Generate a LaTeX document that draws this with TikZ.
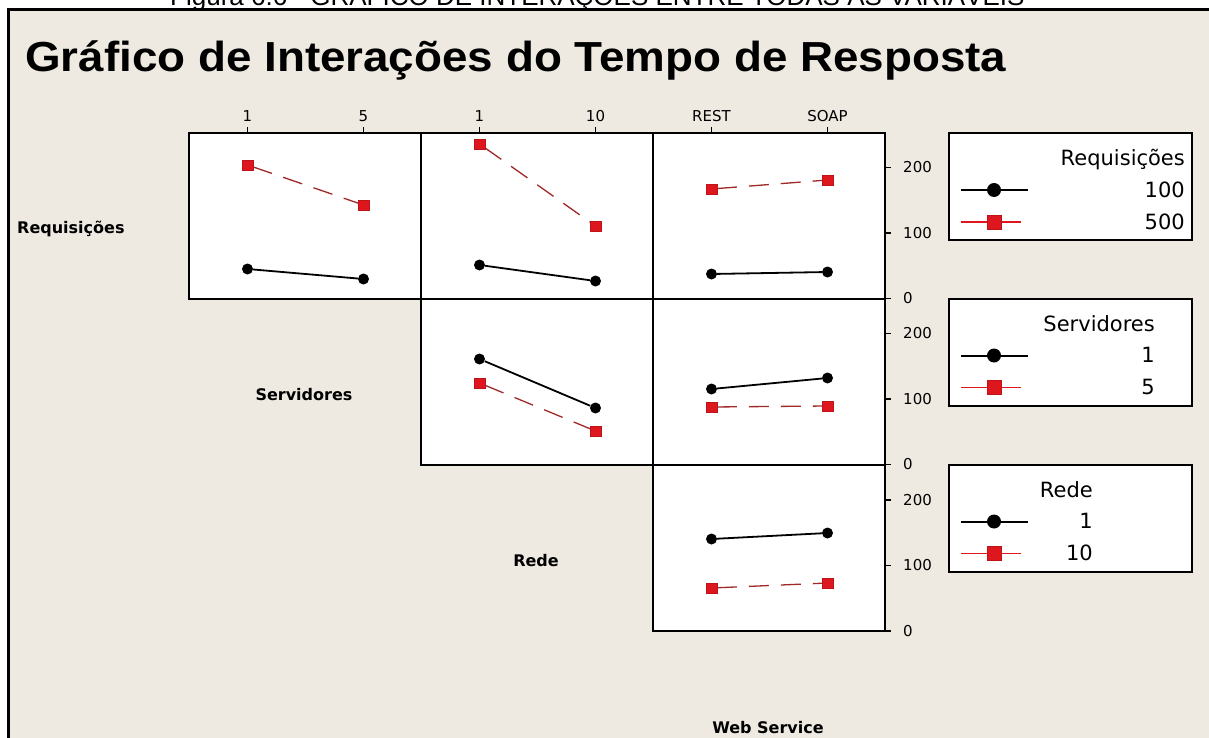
\documentclass[tikz,border=0pt]{standalone}
\usepackage{fontspec}
\setmainfont{DejaVu Sans}
\newfontfamily\arialf{Liberation Sans}
\newfontfamily\dejav{DejaVu Sans}
\definecolor{bgc}{RGB}{238,234,225}
\definecolor{redm}{RGB}{222,22,30}
\definecolor{redl}{RGB}{160,40,40}
\begin{document}
\begin{tikzpicture}[x=1pt,y=-1pt,
  panel/.style={draw=black,line width=2pt,fill=white},
  blk/.style={line width=1.8pt,black},
  redd/.style={line width=1.3pt,redl,dash pattern=on 20pt off 12pt},
  cmark/.style={circle,fill=black,inner sep=0pt,minimum size=11pt},
  smark/.style={rectangle,fill=redm,draw=redm!85!black,line width=0.4pt,inner sep=0pt,minimum size=10.5pt},
  lcmark/.style={circle,fill=black,inner sep=0pt,minimum size=14pt},
  lsmark/.style={rectangle,fill=redm,draw=redm!85!black,line width=0.4pt,inner sep=0pt,minimum size=14pt},
  tickl/.style={line width=1.5pt,black},
  toplab/.style={font=\dejav\fontsize{15}{17}\selectfont,anchor=base,inner sep=0pt},
  ylab/.style={font=\dejav\fontsize{15}{17}\selectfont,anchor=west,inner sep=0pt},
  rowlab/.style={font=\dejav\bfseries\fontsize{16}{19}\selectfont,inner sep=0pt},
  legt/.style={font=\dejav\fontsize{21}{25}\selectfont,anchor=base east,inner sep=0pt},
  legbox/.style={draw=black,line width=2pt,fill=white}
]
\useasboundingbox (0,0) rectangle (1209,738);
% background
\fill[white] (0,0) rectangle (1209,738);
\fill[bgc] (8.5,9.5) rectangle (1209,738);
\draw[line width=2.5pt,black] (7,9.5) -- (1209,9.5);
\draw[line width=3pt,black] (8.5,8.5) -- (8.5,738);
% cut-off caption
\begin{scope}
\clip (0,0) rectangle (1209,8.3);
\node[font=\arialf\fontsize{26}{30}\selectfont,anchor=base west,inner sep=0pt] (cap) at (170,6) {Figura 6.6 - GRÁFICO DE INTERAÇÕES ENTRE TODAS AS VARIÁVEIS};
\end{scope}
% title
\node[font=\arialf\bfseries\fontsize{42}{48}\selectfont,anchor=base west,inner sep=0pt,xscale=1.09] (title) at (25,72) {Gráfico de Interações do Tempo de Resposta};
% panels
\draw[panel] (189,133) rectangle (421,298.5);
\draw[panel] (421,133) rectangle (653,298.5);
\draw[panel] (653,133) rectangle (885,298.5);
\draw[panel] (421,298.5) rectangle (653,464.5);
\draw[panel] (653,298.5) rectangle (885,464.5);
\draw[panel] (653,464.5) rectangle (885,631);
% top ticks
\foreach \x in {247.5,363.5,479.5,595.5,711.5,827.5}
  \draw[tickl] (\x,127) -- (\x,133);
\node[toplab] (tA) at (247.5,122) {1};
\node[toplab] (tB) at (363.5,122) {5};
\node[toplab] (tC) at (479.5,122) {1};
\node[toplab] (tD) at (595.5,122) {10};
\node[toplab] (tE) at (711.5,122) {REST};
\node[toplab] (tF) at (827.5,122) {SOAP};
% right ticks and labels
\foreach \b [count=\i] in {298.5,464.5,631}{
  \draw[tickl] (885,\b) -- (891,\b);
  \draw[tickl] (885,\b-65.5) -- (891,\b-65.5);
  \draw[tickl] (885,\b-131) -- (891,\b-131);
  \node[ylab] (y0\i) at (903,\b) {0};
  \node[ylab] (y1\i) at (903,\b-65.5) {100};
  \node[ylab] (y2\i) at (903,\b-131) {200};
}
% row / column labels
\node[rowlab,anchor=base west] (lreq) at (17,233) {Requisições};
\node[rowlab,anchor=base] (lser) at (304,400) {Servidores};
\node[rowlab,anchor=base] (lred) at (536,566) {Rede};
\node[rowlab,anchor=base] (lws) at (768,733) {Web Service};
% panel (1,1)
\node[smark] (p11r1) at (247.5,165) {};
\node[smark] (p11r2) at (363.5,205) {};
\node[cmark] (p11b1) at (247.5,269) {};
\node[cmark] (p11b2) at (363.5,279) {};
\draw[redd] (p11r1) -- (p11r2);
\draw[blk] (p11b1) -- (p11b2);
% panel (1,2)
\node[smark] (p12r1) at (479.5,144) {};
\node[smark] (p12r2) at (595.5,226) {};
\node[cmark] (p12b1) at (479.5,265) {};
\node[cmark] (p12b2) at (595.5,281) {};
\draw[redd] (p12r1) -- (p12r2);
\draw[blk] (p12b1) -- (p12b2);
% panel (1,3)
\node[smark] (p13r1) at (711.5,189) {};
\node[smark] (p13r2) at (827.5,180) {};
\node[cmark] (p13b1) at (711.5,274) {};
\node[cmark] (p13b2) at (827.5,272) {};
\draw[redd] (p13r1) -- (p13r2);
\draw[blk] (p13b1) -- (p13b2);
% panel (2,2)
\node[smark] (p22r1) at (479.5,383) {};
\node[smark] (p22r2) at (595.5,431) {};
\node[cmark] (p22b1) at (479.5,359) {};
\node[cmark] (p22b2) at (595.5,408) {};
\draw[redd] (p22r1) -- (p22r2);
\draw[blk] (p22b1) -- (p22b2);
% panel (2,3)
\node[smark] (p23r1) at (711.5,407) {};
\node[smark] (p23r2) at (827.5,406) {};
\node[cmark] (p23b1) at (711.5,389) {};
\node[cmark] (p23b2) at (827.5,378) {};
\draw[redd] (p23r1) -- (p23r2);
\draw[blk] (p23b1) -- (p23b2);
% panel (3,3)
\node[smark] (p33r1) at (711.5,588) {};
\node[smark] (p33r2) at (827.5,583) {};
\node[cmark] (p33b1) at (711.5,539) {};
\node[cmark] (p33b2) at (827.5,533) {};
\draw[redd] (p33r1) -- (p33r2);
\draw[blk] (p33b1) -- (p33b2);
% legends
\foreach \t/\r/\ttl/\va/\vb [count=\k] in {133/1185/Requisições/100/500, 298.5/1155/Servidores/1/5, 464.5/1093/Rede/1/10}{
  \draw[legbox] (949,\t) rectangle (1192,\t+107);
  \node[legt] (lgt\k) at (\r,\t+33) {\ttl};
  \node[legt] (lga\k) at (\r,\t+64) {\va};
  \node[legt] (lgb\k) at (\r,\t+96) {\vb};
  \coordinate (la\k) at (961,\t+57);
  \coordinate (lb\k) at (1028,\t+57);
  \coordinate (lc\k) at (961,\t+89);
  \coordinate (ld\k) at (1021,\t+89);
  \draw[line width=2pt,black] (la\k) -- (lb\k);
  \draw[line width=1.2pt,redm] (lc\k) -- (ld\k);
  \node[lcmark] (lm\k) at (994,\t+57) {};
  \node[lsmark] (ls\k) at (994,\t+89) {};
}
\end{tikzpicture}
\end{document}
